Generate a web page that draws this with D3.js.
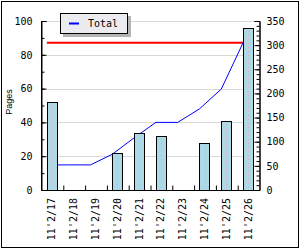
<!DOCTYPE html>
<html>
<head>
<meta charset="utf-8">
<script src="https://cdn.jsdelivr.net/npm/d3@7/dist/d3.min.js"></script>
<style>
  html, body { margin: 0; padding: 0; background: #fff; }
  svg { display: block; }
  text { font-family: "DejaVu Sans Mono", monospace; font-size: 10px; fill: #000; }
</style>
</head>
<body>
<svg id="chart" width="300" height="250"></svg>
<script>
const categories = ["11'2/17", "11'2/18", "11'2/19", "11'2/20", "11'2/21", "11'2/22", "11'2/23", "11'2/24", "11'2/25", "11'2/26"];
const pages = [52, 0, 0, 22, 34, 32, 0, 28, 41, 96];
const totals = [52, 52, 52, 74, 108, 140, 140, 168, 209, 305];
const targetTotal = 305;
const leftTicks = [0, 20, 40, 60, 80, 100];
const rightTicks = [0, 50, 100, 150, 200, 250, 300, 350];
const seriesName = "Total";
const yTitle = "Pages";

const svg = d3.select("#chart");
const plot = { left: 41, right: 259, top: 21, bottom: 190 };

const x = d3.scaleBand().domain(categories).range([plot.left, plot.right])
  .paddingInner(0.54).paddingOuter(0.27);
const xb = d3.scaleLinear().domain([0, categories.length]).range([plot.left, plot.right]);
const yL = d3.scaleLinear().domain([0, 100]).range([plot.bottom, plot.top]);
const yR = d3.scaleLinear().domain([0, 350]).range([plot.bottom, plot.top]);

// outer frame
svg.append("rect").attr("x", 1.5).attr("y", 1.5).attr("width", 297).attr("height", 246)
  .attr("fill", "#fff").attr("stroke", "#000").attr("stroke-width", 1);

// grid
svg.append("g").selectAll("line").data(leftTicks.filter(d => d > 0)).join("line")
  .attr("x1", plot.left).attr("x2", plot.right)
  .attr("y1", d => Math.round(yL(d)) + 0.5).attr("y2", d => Math.round(yL(d)) + 0.5)
  .attr("stroke", "#d8d8d8").attr("stroke-width", 1);

// target red line
svg.append("line")
  .attr("x1", x(categories[0])).attr("x2", x(categories[categories.length - 1]))
  .attr("y1", yR(targetTotal)).attr("y2", yR(targetTotal))
  .attr("stroke", "#ff0000").attr("stroke-width", 2);

// total line
svg.append("path").datum(totals)
  .attr("d", d3.line().x((d, i) => x(categories[i])).y(d => yR(d)))
  .attr("fill", "none").attr("stroke", "#0000ff").attr("stroke-width", 1);

// bars
const barData = categories.map((c, i) => ({ c, v: pages[i] })).filter(d => d.v > 0);
const bars = svg.append("g");
bars.selectAll("rect").data(barData).join("rect")
  .attr("x", d => Math.round(x(d.c)) + 0.5)
  .attr("y", d => Math.round(yL(d.v)) + 0.5)
  .attr("width", Math.round(x.bandwidth()))
  .attr("height", d => plot.bottom - Math.round(yL(d.v)))
  .attr("fill", "#add8e6").attr("stroke", "#000").attr("stroke-width", 1);
bars.selectAll("line").data(barData).join("line")
  .attr("x1", d => Math.round(x(d.c) + x.bandwidth() / 2) + 0.5)
  .attr("x2", d => Math.round(x(d.c) + x.bandwidth() / 2) + 0.5)
  .attr("y1", d => Math.round(yL(d.v)) + 3).attr("y2", plot.bottom - 1)
  .attr("stroke", "#f0a0b0").attr("stroke-width", 1).attr("stroke-dasharray", "1,3");

// left axis
const gL = svg.append("g").attr("transform", `translate(${plot.left + 0.5},0)`);
gL.call(d3.axisLeft(yL).tickValues(d3.range(0, 101, 10)).tickSize(-3).tickFormat(""));
gL.append("g").call(d3.axisLeft(yL).tickValues(leftTicks).tickSize(-5).tickPadding(9));
gL.selectAll(".domain").attr("stroke", "#000");
gL.selectAll("text").style("font-family", "DejaVu Sans Mono").style("font-size", "10px").attr("fill", "#000");
gL.select(".domain").attr("d", `M0,${plot.top}V${plot.bottom + 0.5}`);

// right axis
const gR = svg.append("g").attr("transform", `translate(${plot.right + 0.5},0)`);
gR.call(d3.axisRight(yR).tickValues(d3.range(0, 351, 10)).tickSize(-3).tickFormat(""));
gR.append("g").call(d3.axisRight(yR).tickValues(rightTicks).tickSize(-5).tickPadding(7));
gR.selectAll("text").style("font-family", "DejaVu Sans Mono").style("font-size", "10px").attr("fill", "#000");

// bottom axis
const gB = svg.append("g").attr("transform", `translate(0,${plot.bottom + 0.5})`);
gB.call(d3.axisBottom(xb).tickValues(d3.range(1, categories.length)).tickSize(-5).tickFormat(""));
gB.select(".domain").attr("d", `M${plot.left},0H${plot.right + 1}`);
gB.selectAll(".tick line").attr("transform", "translate(0.5,0)");

// x labels
svg.append("g").selectAll("text").data(categories).join("text")
  .attr("transform", d => `translate(${x(d) + x.bandwidth() / 2},${plot.bottom + 8}) rotate(-90)`)
  .attr("dy", "0.35em").attr("text-anchor", "end").text(d => d);

// y title
svg.append("text").attr("transform", `translate(9,102) rotate(-90)`)
  .attr("dy", "0.35em").attr("text-anchor", "middle")
  .style("font-family", "Liberation Sans").style("font-size", "9px").text(yTitle);

// legend
const lg = svg.append("g");
lg.append("rect").attr("x", 63).attr("y", 16).attr("width", 68).attr("height", 21).attr("fill", "#b4b4b4");
lg.append("rect").attr("x", 60.5).attr("y", 13.5).attr("width", 67).attr("height", 20)
  .attr("fill", "#ecebf0").attr("stroke", "#000").attr("stroke-width", 1);
lg.append("line").attr("x1", 69).attr("x2", 79).attr("y1", 23.5).attr("y2", 23.5)
  .attr("stroke", "#0000ff").attr("stroke-width", 2);
lg.append("text").attr("x", 88).attr("y", 23.5).attr("dy", "0.35em").text(seriesName);
</script>
</body>
</html>
